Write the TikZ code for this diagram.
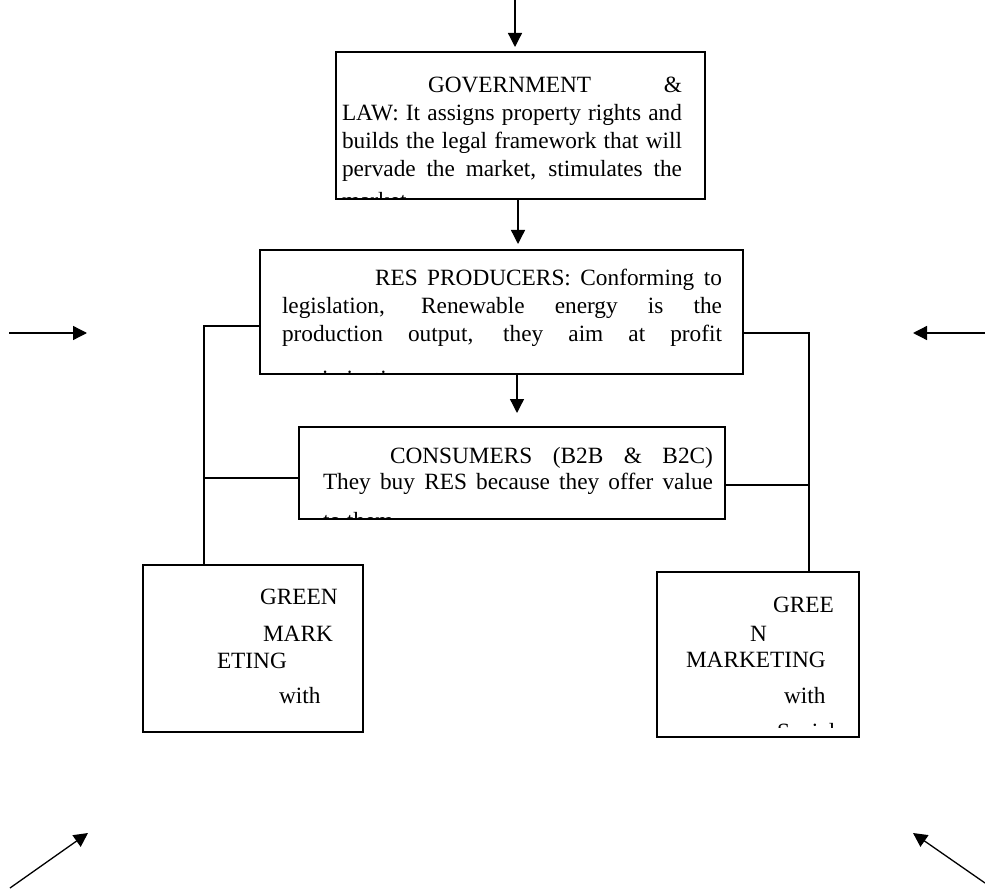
\documentclass[tikz,border=0pt]{standalone}
\usepackage{fontspec}
\setmainfont{Liberation Serif}
\usetikzlibrary{arrows.meta}
\hbadness=10000
\begin{document}
\begin{tikzpicture}[x=1pt,y=-1pt,
  box/.style={draw, line width=1.4pt, inner sep=0pt, outer sep=0pt},
  txt/.style={inner sep=0pt, outer sep=0pt, anchor=base west, align=justify, font=\fontsize{23.3}{27.8}\selectfont},
  gtxt/.style={inner sep=0pt, outer sep=0pt, anchor=base west, align=left, text width=190pt, font=\fontsize{23.3}{27}\selectfont},
  conn/.style={line width=1.3pt},
  arr/.style={line width=1.3pt, -{Triangle[length=14pt,width=14pt]}}]
\useasboundingbox (0,0) rectangle (985,890);

% boxes
\node[box, minimum width=369pt, minimum height=147pt] (gov) at (520.5,125.5) {};
\node[box, minimum width=483pt, minimum height=124pt] (res) at (501.5,312) {};
\node[box, minimum width=426pt, minimum height=92pt] (cons) at (512,473) {};
\node[box, minimum width=220pt, minimum height=167pt] (lg) at (253,648.5) {};
\node[box, minimum width=202pt, minimum height=165pt] (rg) at (758,654.5) {};

% texts (clipped by their boxes)
\begin{scope}
\clip (337,53) rectangle (704,198);
\node[txt, text width=340pt] (govt) at (342,93) {\hspace*{86pt}GOVERNMENT \&\linebreak LAW: It assigns property rights and\linebreak builds the legal framework that will\linebreak pervade the market, stimulates the\vadjust{\vskip4pt}\linebreak market.};
\end{scope}
\begin{scope}
\clip (261,251) rectangle (742,373);
\node[txt, text width=440pt] (rest) at (282,286) {\hspace*{93pt}RES PRODUCERS: Conforming to\linebreak legislation, Renewable energy is the\linebreak production output, they aim at profit\vadjust{\vskip17pt}\linebreak maximization.};
\end{scope}
\begin{scope}
\clip (300,428) rectangle (724,518);
\node[txt, text width=390pt, font=\fontsize{23.3}{26}\selectfont] (const) at (323,463) {\hspace*{67pt}CONSUMERS (B2B \& B2C)\linebreak They buy RES because they offer value\vadjust{\vskip13pt}\linebreak to them.};
\end{scope}
\begin{scope}
\clip (144,566) rectangle (362,731);
\node[gtxt] (lgt) at (217,604) {\hspace*{43pt}GREEN\\[10pt]\hspace*{46pt}MARK\\ETING\\[8pt]\hspace*{62pt}with};
\end{scope}
\begin{scope}
\clip (658,573) rectangle (858,727);
\node[gtxt] (rgt) at (686,612) {\hspace*{87pt}GREE\\[2pt]\hspace*{64pt}N\\[-1pt]MARKETING\\[9pt]\hspace*{98pt}with\\[9pt]\hspace*{91pt}Social};
\end{scope}

% vertical flow arrows
\coordinate (topin) at (515,0);
\draw[arr, shorten >=5pt] (topin) -- (topin |- gov.north);
\coordinate (a1) at ([xshift=-2.5pt]gov.south);
\draw[arr, shorten >=6pt] (a1) -- (a1 |- res.north);
\coordinate (a2) at ([xshift=15.5pt]res.south);
\draw[arr, shorten >=14pt] (a2) -- (a2 |- cons.north);

% connectors to green marketing boxes
\coordinate (lbus) at ([xshift=-49pt]lg.north);
\coordinate (rbus) at ([xshift=51pt]rg.north);
\draw[conn] ([yshift=-14pt]res.west) -| (lbus);
\draw[conn] ([yshift=-21pt]res.east) -| (rbus);
\coordinate (cw) at ([yshift=-5pt]cons.west);
\coordinate (ce) at ([yshift=-12pt]cons.east);
\draw[conn] (cw) -- (cw -| lbus);
\draw[conn] (ce) -- (ce -| rbus);

% side arrows
\coordinate (l1s) at (9,333);   \coordinate (l1e) at (87,333);
\coordinate (r1s) at (985,333); \coordinate (r1e) at (913,333);
\coordinate (l2s) at (10,888);  \coordinate (l2e) at (88,833);
\coordinate (r2s) at (985,883); \coordinate (r2e) at (913,833);
\draw[arr] (l1s) -- (l1e);
\draw[arr] (r1s) -- (r1e);
\draw[arr] (l2s) -- (l2e);
\draw[arr] (r2s) -- (r2e);
\end{tikzpicture}
\end{document}
